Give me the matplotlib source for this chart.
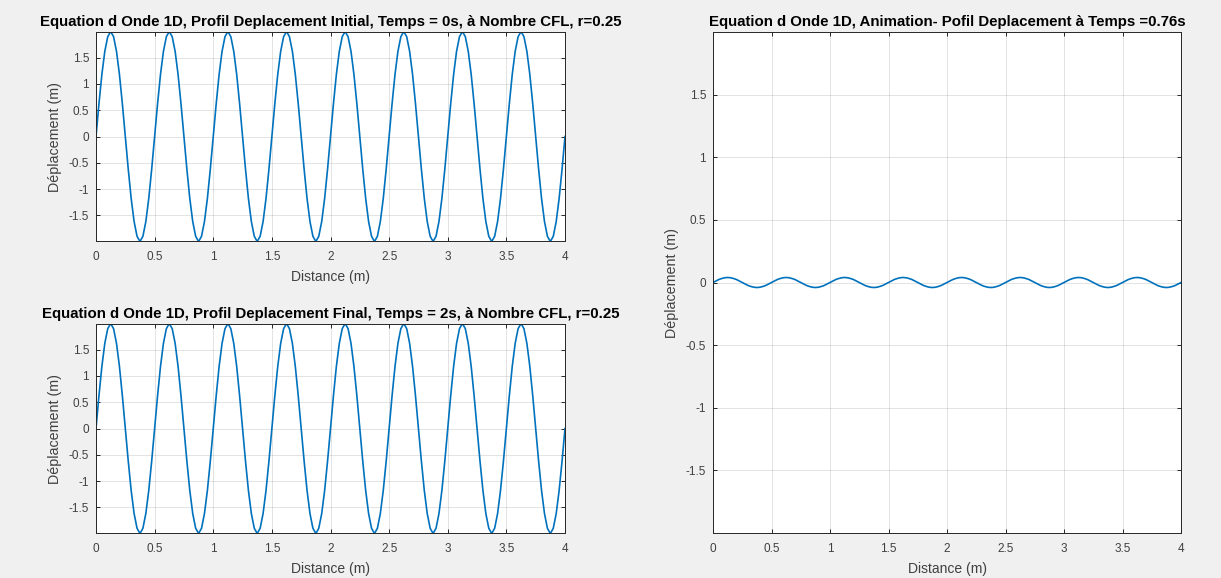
import numpy as np
import matplotlib
matplotlib.use("Agg")
import matplotlib.pyplot as plt

plt.rcParams['font.family'] = ['Liberation Sans', 'DejaVu Sans']

# ---- data ----
distance = np.linspace(0.0, 4.0, 161)  # sample grid along the string (m)

disp_initial = [
    0.00, 0.62, 1.18, 1.62, 1.90, 2.00, 1.90, 1.62, 1.18, 0.62, 0.00, -0.62, -1.18, -1.62, -1.90, -2.00, -1.90, -1.62, -1.18, -0.62,
    0.00, 0.62, 1.18, 1.62, 1.90, 2.00, 1.90, 1.62, 1.18, 0.62, 0.00, -0.62, -1.18, -1.62, -1.90, -2.00, -1.90, -1.62, -1.18, -0.62,
    0.00, 0.62, 1.18, 1.62, 1.90, 2.00, 1.90, 1.62, 1.18, 0.62, 0.00, -0.62, -1.18, -1.62, -1.90, -2.00, -1.90, -1.62, -1.18, -0.62,
    0.00, 0.62, 1.18, 1.62, 1.90, 2.00, 1.90, 1.62, 1.18, 0.62, 0.00, -0.62, -1.18, -1.62, -1.90, -2.00, -1.90, -1.62, -1.18, -0.62,
    0.00, 0.62, 1.18, 1.62, 1.90, 2.00, 1.90, 1.62, 1.18, 0.62, 0.00, -0.62, -1.18, -1.62, -1.90, -2.00, -1.90, -1.62, -1.18, -0.62,
    0.00, 0.62, 1.18, 1.62, 1.90, 2.00, 1.90, 1.62, 1.18, 0.62, 0.00, -0.62, -1.18, -1.62, -1.90, -2.00, -1.90, -1.62, -1.18, -0.62,
    0.00, 0.62, 1.18, 1.62, 1.90, 2.00, 1.90, 1.62, 1.18, 0.62, 0.00, -0.62, -1.18, -1.62, -1.90, -2.00, -1.90, -1.62, -1.18, -0.62,
    0.00, 0.62, 1.18, 1.62, 1.90, 2.00, 1.90, 1.62, 1.18, 0.62, 0.00, -0.62, -1.18, -1.62, -1.90, -2.00, -1.90, -1.62, -1.18, -0.62,
    0.00,
]

disp_final = [
    0.00, 0.62, 1.18, 1.62, 1.90, 2.00, 1.90, 1.62, 1.18, 0.62, 0.00, -0.62, -1.18, -1.62, -1.90, -2.00, -1.90, -1.62, -1.18, -0.62,
    0.00, 0.62, 1.18, 1.62, 1.90, 2.00, 1.90, 1.62, 1.18, 0.62, 0.00, -0.62, -1.18, -1.62, -1.90, -2.00, -1.90, -1.62, -1.18, -0.62,
    0.00, 0.62, 1.18, 1.62, 1.90, 2.00, 1.90, 1.62, 1.18, 0.62, 0.00, -0.62, -1.18, -1.62, -1.90, -2.00, -1.90, -1.62, -1.18, -0.62,
    0.00, 0.62, 1.18, 1.62, 1.90, 2.00, 1.90, 1.62, 1.18, 0.62, 0.00, -0.62, -1.18, -1.62, -1.90, -2.00, -1.90, -1.62, -1.18, -0.62,
    0.00, 0.62, 1.18, 1.62, 1.90, 2.00, 1.90, 1.62, 1.18, 0.62, 0.00, -0.62, -1.18, -1.62, -1.90, -2.00, -1.90, -1.62, -1.18, -0.62,
    0.00, 0.62, 1.18, 1.62, 1.90, 2.00, 1.90, 1.62, 1.18, 0.62, 0.00, -0.62, -1.18, -1.62, -1.90, -2.00, -1.90, -1.62, -1.18, -0.62,
    0.00, 0.62, 1.18, 1.62, 1.90, 2.00, 1.90, 1.62, 1.18, 0.62, 0.00, -0.62, -1.18, -1.62, -1.90, -2.00, -1.90, -1.62, -1.18, -0.62,
    0.00, 0.62, 1.18, 1.62, 1.90, 2.00, 1.90, 1.62, 1.18, 0.62, 0.00, -0.62, -1.18, -1.62, -1.90, -2.00, -1.90, -1.62, -1.18, -0.62,
    0.00,
]

disp_anim = [
    0.000, 0.012, 0.024, 0.032, 0.038, 0.040, 0.038, 0.032, 0.024, 0.012, 0.000, -0.012, -0.024, -0.032, -0.038, -0.040, -0.038, -0.032, -0.024, -0.012,
    0.000, 0.012, 0.024, 0.032, 0.038, 0.040, 0.038, 0.032, 0.024, 0.012, 0.000, -0.012, -0.024, -0.032, -0.038, -0.040, -0.038, -0.032, -0.024, -0.012,
    0.000, 0.012, 0.024, 0.032, 0.038, 0.040, 0.038, 0.032, 0.024, 0.012, 0.000, -0.012, -0.024, -0.032, -0.038, -0.040, -0.038, -0.032, -0.024, -0.012,
    0.000, 0.012, 0.024, 0.032, 0.038, 0.040, 0.038, 0.032, 0.024, 0.012, 0.000, -0.012, -0.024, -0.032, -0.038, -0.040, -0.038, -0.032, -0.024, -0.012,
    0.000, 0.012, 0.024, 0.032, 0.038, 0.040, 0.038, 0.032, 0.024, 0.012, 0.000, -0.012, -0.024, -0.032, -0.038, -0.040, -0.038, -0.032, -0.024, -0.012,
    0.000, 0.012, 0.024, 0.032, 0.038, 0.040, 0.038, 0.032, 0.024, 0.012, 0.000, -0.012, -0.024, -0.032, -0.038, -0.040, -0.038, -0.032, -0.024, -0.012,
    0.000, 0.012, 0.024, 0.032, 0.038, 0.040, 0.038, 0.032, 0.024, 0.012, 0.000, -0.012, -0.024, -0.032, -0.038, -0.040, -0.038, -0.032, -0.024, -0.012,
    0.000, 0.012, 0.024, 0.032, 0.038, 0.040, 0.038, 0.032, 0.024, 0.012, 0.000, -0.012, -0.024, -0.032, -0.038, -0.040, -0.038, -0.032, -0.024, -0.012,
    0.000,
]

x_ticks = [0, 0.5, 1, 1.5, 2, 2.5, 3, 3.5, 4]
x_ticklabels = ['0', '0.5', '1', '1.5', '2', '2.5', '3', '3.5', '4']
y_ticks = [-1.5, -1, -0.5, 0, 0.5, 1, 1.5]
y_ticklabels = ['-1.5', '-1', '-0.5', '0', '0.5', '1', '1.5']

title_initial = "Equation d Onde 1D, Profil Deplacement Initial, Temps = 0s, à Nombre CFL, r=0.25"
title_final = "Equation d Onde 1D, Profil Deplacement Final, Temps = 2s, à Nombre CFL, r=0.25"
title_anim = "Equation d Onde 1D, Animation- Pofil Deplacement à Temps =0.76s"
xlabel = "Distance (m)"
ylabel = "Déplacement (m)"

# ---- figure ----
W, H = 1221, 578
fig = plt.figure(figsize=(W / 100, H / 100), dpi=100, facecolor='#f0f0f0')

def px_axes(x0, y0, x1, y1):
    return fig.add_axes([x0 / W, 1 - y1 / H, (x1 - x0) / W, (y1 - y0) / H])

LINE = '#0072BD'
SPINE = '#262626'
TXT = '#404040'

def style(ax, series, title, ylim):
    ax.set_facecolor('white')
    ax.plot(distance, series, color=LINE, lw=1.2)
    ax.set_xlim(0, 4)
    ax.set_ylim(*ylim)
    ax.set_xticks(x_ticks)
    ax.set_xticklabels(x_ticklabels)
    ax.set_yticks(y_ticks)
    ax.set_yticklabels(y_ticklabels)
    ax.grid(True, color='#262626', alpha=0.13, lw=0.7)
    ax.tick_params(direction='in', length=3, width=0.7, colors=SPINE,
                   labelcolor=TXT, labelsize=8.5, top=True, right=True)
    ax.tick_params(axis='x', pad=7)
    ax.tick_params(axis='y', pad=5)
    for s in ax.spines.values():
        s.set_color(SPINE)
        s.set_linewidth(0.7)
    ax.set_title(title, fontsize=10.8, fontweight='bold', color='black', pad=4)
    ax.set_xlabel(xlabel, fontsize=10, color=TXT, labelpad=5)
    ax.set_ylabel(ylabel, fontsize=10.3, color=TXT, labelpad=5)

ax1 = px_axes(96, 32, 565, 241)
style(ax1, disp_initial, title_initial, (-1.99, 1.99))

ax2 = px_axes(96, 324, 565, 533)
style(ax2, disp_final, title_final, (-1.99, 1.99))

ax3 = px_axes(713, 32, 1181, 533)
style(ax3, disp_anim, title_anim, (-2.0, 2.0))

fig.savefig('out.png', dpi=100, facecolor=fig.get_facecolor())
